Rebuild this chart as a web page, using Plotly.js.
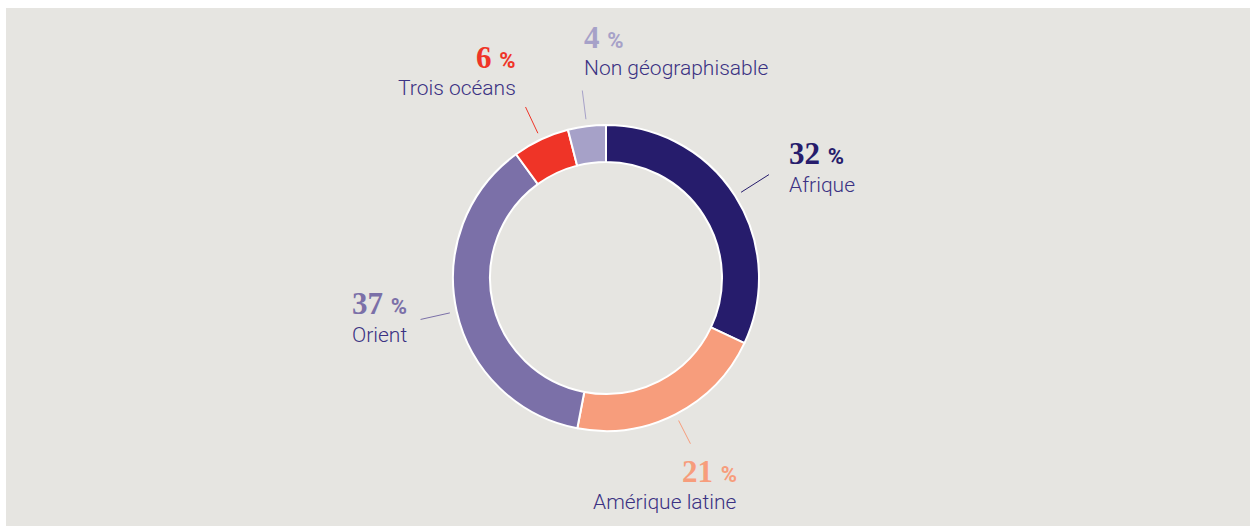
<!DOCTYPE html>
<html>
<head>
<meta charset="utf-8">
<script src="https://cdn.plot.ly/plotly-3.0.1.min.js"></script>
<style>html,body{margin:0;padding:0;background:#fff;}#chart{width:1250px;height:526px;}</style>
</head>
<body>
<div id="chart"></div>
<script>
// ---- data ----
const categories = ["Afrique", "Amérique latine", "Orient", "Trois océans", "Non géographisable"];
const shares = [32, 21, 37, 6, 4];
const colors = ["#261c6c", "#f79d7c", "#7b70a8", "#ef3427", "#a6a1c8"];

// ---- layout config (positions in pixels) ----
const W = 1250, H = 526;
const cx = 606, cy = 278, R = 153;
const labelCfg = [
  {x: 787, numY: 153, labY: 185, align: "left"},
  {x: 739, numY: 471, labY: 502, align: "right"},
  {x: 350, numY: 303, labY: 335, align: "left"},
  {x: 518, numY: 58,  labY: 88,  align: "right"},
  {x: 582, numY: 38,  labY: 68,  align: "left"}
];
const leaderR = [[160, 193], [160, 186], [160, 190], [160, 189], [160, 189]];

const px = v => v / W;
const py = v => 1 - v / H;

const annotations = [];
const shapes = [{
  type: "rect", xref: "paper", yref: "paper", layer: "below",
  x0: px(6), x1: 1, y0: 0, y1: py(8),
  fillcolor: "#e6e5e1", line: {width: 0}
}];

const total = shares.reduce((a, b) => a + b, 0);
let cum = 0;
shares.forEach((v, i) => {
  const mid = (cum + v / 2) / total * 2 * Math.PI;
  cum += v;
  const dx = Math.sin(mid), dy = -Math.cos(mid);
  const [r1, r2] = leaderR[i];
  shapes.push({
    type: "line", xref: "paper", yref: "paper",
    x0: px(cx + r1 * dx), y0: py(cy + r1 * dy),
    x1: px(cx + r2 * dx), y1: py(cy + r2 * dy),
    line: {color: colors[i], width: 1}
  });
  const c = labelCfg[i];
  annotations.push({
    xref: "paper", yref: "paper", x: px(c.x), y: py(c.numY),
    xanchor: c.align, yanchor: "middle", showarrow: false,
    text: "<b>" + v + "</b> <span style=\"font-size:22px;font-family:Roboto\"><b>%</b></span>",
    font: {family: "Liberation Serif, serif", size: 31, color: colors[i]}
  });
  annotations.push({
    xref: "paper", yref: "paper", x: px(c.x), y: py(c.labY),
    xanchor: c.align, yanchor: "middle", showarrow: false,
    text: categories[i],
    font: {family: "Roboto, sans-serif", size: 21, weight: 300, color: "#3b3283"}
  });
});

const trace = {
  type: "pie",
  labels: categories,
  values: shares,
  sort: false,
  direction: "clockwise",
  rotation: 0,
  hole: 116 / 153,
  textinfo: "none",
  hoverinfo: "label+percent",
  marker: {colors: colors, line: {color: "#ffffff", width: 2}},
  domain: {x: [px(cx - R), px(cx + R)], y: [py(cy + R), py(cy - R)]},
  showlegend: false
};

const layout = {
  width: W, height: H,
  margin: {l: 0, r: 0, t: 0, b: 0},
  paper_bgcolor: "#ffffff",
  showlegend: false,
  shapes: shapes,
  annotations: annotations
};

Plotly.newPlot("chart", [trace], layout, {displayModeBar: false, staticPlot: true});
</script>
</body>
</html>
